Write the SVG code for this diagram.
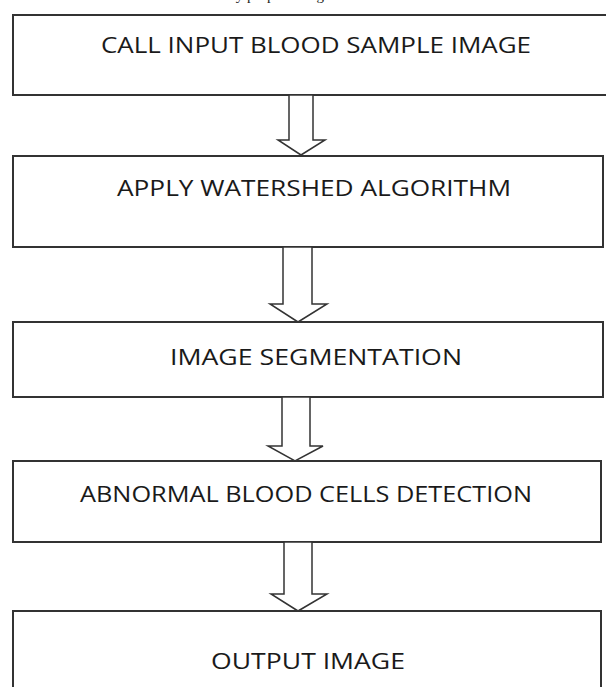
<svg xmlns="http://www.w3.org/2000/svg" width="606" height="687" viewBox="0 0 606 687">
<style>
.box{fill:#fff;stroke:#333;stroke-width:2}
.lbl{font-family:"Open Sans","Liberation Sans",sans-serif;font-size:21px;fill:#1a1a1a;text-anchor:middle}
.arr{fill:#fff;stroke:#333;stroke-width:1.5;stroke-linejoin:miter}
.cap{font-family:"Liberation Serif",serif;font-size:15px;fill:#222}
</style>
<rect width="606" height="687" fill="#fff"/>
<text class="cap" x="224" y="0">my proposed algorithm</text>
<g id="n1"><rect class="box" x="13" y="15" width="600" height="80"/><text class="lbl" x="316" y="53" textLength="430" lengthAdjust="spacingAndGlyphs">CALL INPUT BLOOD SAMPLE IMAGE</text></g>
<g id="n2"><rect class="box" x="13" y="156" width="590" height="91"/><text class="lbl" x="314" y="196" textLength="394" lengthAdjust="spacingAndGlyphs">APPLY WATERSHED ALGORITHM</text></g>
<g id="n3"><rect class="box" x="13" y="322" width="590" height="75"/><text class="lbl" x="316" y="365" textLength="292" lengthAdjust="spacingAndGlyphs">IMAGE SEGMENTATION</text></g>
<g id="n4"><rect class="box" x="13" y="461" width="588" height="81"/><text class="lbl" x="306" y="502" textLength="452" lengthAdjust="spacingAndGlyphs">ABNORMAL BLOOD CELLS DETECTION</text></g>
<g id="n5"><rect class="box" x="13" y="611" width="588" height="90"/><text class="lbl" x="308" y="669" textLength="194" lengthAdjust="spacingAndGlyphs">OUTPUT IMAGE</text></g>
<g id="connectors">
<path class="arr" d="M289,95 L313,95 L313,140 L325,140 L301,155 L278,140 L289,140 Z"/>
<path class="arr" d="M283,247 L312,247 L312,304 L327,304 L298,322 L270,304 L283,304 Z"/>
<path class="arr" d="M282,397 L310,397 L310,446 L323,446 L295,461 L268,446 L282,446 Z"/>
<path class="arr" d="M284,542 L312,542 L312,594 L327,594 L298,611 L271,594 L284,594 Z"/>
</g>
</svg>
